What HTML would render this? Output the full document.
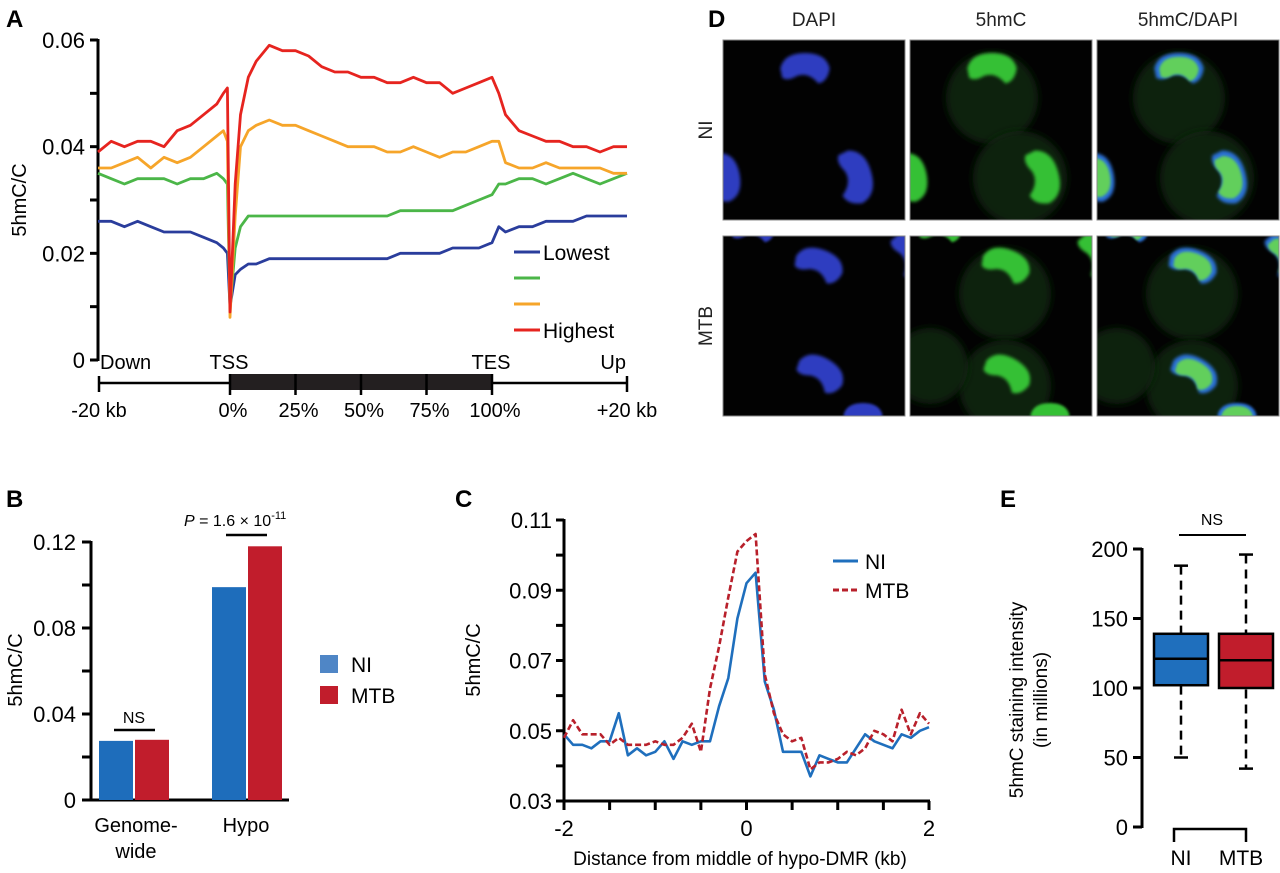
<!DOCTYPE html>
<html><head><meta charset="utf-8"><style>
html,body{margin:0;padding:0;background:#fff;}
svg{display:block;font-family:"Liberation Sans",Arial,sans-serif;}
</style></head><body>
<svg id="fig" width="1280" height="873" viewBox="0 0 1280 873" xmlns="http://www.w3.org/2000/svg">
<defs>
<filter id="blur1" x="-30%" y="-30%" width="160%" height="160%"><feGaussianBlur stdDeviation="1.6"/></filter>
<filter id="blur3" x="-30%" y="-30%" width="160%" height="160%"><feGaussianBlur stdDeviation="4"/></filter>
<clipPath id="cp1"><rect x="0" y="0" width="182" height="180"/></clipPath>
</defs>
<g font-weight="bold" font-size="24" fill="#000">
<text x="6" y="27">A</text>
<text x="6" y="507">B</text>
<text x="455" y="507">C</text>
<text x="708" y="27">D</text>
<text x="1000" y="507">E</text>
</g>
<g id="pA"></g>
<g id="pB"></g>
<g id="pC"></g>
<g id="pD"></g>
<g id="pE"></g>
</svg>
<script>
// ---------- Panel A data ----------
const aX = [-100,-90,-80,-70,-60,-50,-40,-30,-20,-10,-5,-2,0,2,4,7,10,15,20,25,30,35,40,45,50,55,60,65,70,75,80,85,90,95,100,105,110,120,130,140,150,160,170,180,190,200];
const aRed =    [.039,.041,.040,.041,.041,.040,.043,.044,.046,.048,.050,.051,.009,.033,.046,.053,.056,.059,.058,.058,.057,.055,.054,.054,.053,.053,.052,.052,.053,.052,.052,.050,.051,.052,.053,.050,.046,.043,.042,.041,.041,.040,.040,.039,.040,.040];
const aOrange = [.036,.036,.037,.038,.036,.038,.037,.038,.040,.042,.043,.041,.008,.027,.040,.043,.044,.045,.044,.044,.043,.042,.041,.040,.040,.040,.039,.039,.040,.039,.038,.039,.039,.040,.041,.041,.037,.036,.036,.037,.036,.036,.036,.036,.035,.035];
const aGreen =  [.035,.034,.033,.034,.034,.034,.033,.034,.034,.035,.034,.033,.010,.021,.025,.027,.027,.027,.027,.027,.027,.027,.027,.027,.027,.027,.027,.028,.028,.028,.028,.028,.029,.030,.031,.033,.033,.034,.034,.033,.034,.035,.034,.033,.034,.035];
const aBlue =   [.026,.026,.025,.026,.025,.024,.024,.024,.023,.022,.021,.020,.010,.016,.017,.018,.018,.019,.019,.019,.019,.019,.019,.019,.019,.019,.019,.020,.020,.020,.020,.021,.021,.021,.022,.025,.024,.025,.025,.026,.026,.026,.027,.027,.027,.027];
const aYTicks = [0,0.01,0.02,0.03,0.04,0.05,0.06];
const aYLabels = ["0","","0.02","","0.04","","0.06"];
const aPctTicks = [0,25,50,75,100];
const aPctLabels = ["0%","25%","50%","75%","100%"];
// ---------- Panel B data ----------
const bCats = ["Genome-wide","Hypo"];
const bNI = [0.0275, 0.099];
const bMTB = [0.028, 0.118];
const bYTicks = [0,0.02,0.04,0.06,0.08,0.10,0.12];
const bYLabels = ["0","","0.04","","0.08","","0.12"];
// ---------- Panel C data ----------
const cX = [-2.0,-1.9,-1.8,-1.7,-1.6,-1.5,-1.4,-1.3,-1.2,-1.1,-1.0,-0.9,-0.8,-0.7,-0.6,-0.5,-0.4,-0.3,-0.2,-0.1,0,0.1,0.2,0.3,0.4,0.5,0.6,0.7,0.8,0.9,1.0,1.1,1.2,1.3,1.4,1.5,1.6,1.7,1.8,1.9,2.0];
const cNI =  [.049,.046,.046,.045,.047,.047,.055,.043,.045,.043,.044,.047,.042,.047,.046,.047,.047,.057,.065,.082,.092,.095,.064,.056,.044,.044,.044,.037,.043,.042,.041,.041,.045,.049,.047,.046,.045,.049,.048,.050,.051];
const cMTB = [.048,.053,.049,.049,.049,.046,.048,.046,.046,.046,.047,.046,.046,.048,.052,.044,.062,.074,.088,.101,.104,.106,.066,.055,.049,.047,.048,.039,.041,.041,.042,.044,.043,.045,.050,.049,.047,.056,.049,.055,.052];
const cYTicks = [0.03,0.04,0.05,0.06,0.07,0.08,0.09,0.10,0.11];
const cYLabels = ["0.03","","0.05","","0.07","","0.09","","0.11"];
const cXTicks = [-2,-1.5,-1,-0.5,0,0.5,1,1.5,2];
const cXLabels = ["-2","","","","0","","","","2"];
// ---------- Panel E data ----------
const eGroups = ["NI","MTB"];
const eMin = [50, 42];
const eQ1 = [102, 100];
const eMed = [121, 120];
const eQ3 = [139, 139];
const eMax = [188, 196];
const eYTicks = [0,50,100,150,200];

const NS = "http://www.w3.org/2000/svg";
function el(parent, tag, attrs, text){
  const e = document.createElementNS(NS, tag);
  for (const k in attrs) e.setAttribute(k, attrs[k]);
  if (text !== undefined) e.textContent = text;
  parent.appendChild(e);
  return e;
}
function pathFrom(xs, ys, fx, fy){
  return xs.map((x,i)=>(i?'L':'M')+fx(x).toFixed(1)+' '+fy(ys[i]).toFixed(1)).join(' ');
}

// ================= Panel A =================
(function(){
  const g = document.getElementById('pA');
  const ax = x => x<=0 ? 98+(x+100)/100*132 : (x<=100 ? 230+x*2.62 : 492+(x-100)/100*135);
  const ay = v => 360 - v/0.06*320;
  let e = el(g,'line',{x1:98,y1:39,x2:98,y2:361,stroke:'#000','stroke-width':3});
   
  aYTicks.forEach((t,i)=>{
    let tk = el(g,'line',{x1:90,y1:ay(t),x2:98,y2:ay(t),stroke:'#000','stroke-width':3});
     
    if (aYLabels[i]) {
      let tl = el(g,'text',{x:85,y:ay(t)+8,'text-anchor':'end','font-size':22},aYLabels[i]);
       
    }
  });
  e = el(g,'text',{x:0,y:0,transform:'translate(26,200) rotate(-90)','text-anchor':'middle','font-size':20},'5hmC/C');
   
  const series = [[aBlue,'#2a3d9c','line-lowest'],[aGreen,'#4bb648','line-second'],[aOrange,'#f6a52a','line-third'],[aRed,'#e6241f','line-highest']];
  series.forEach(s=>{
    let p = el(g,'path',{d:pathFrom(aX,s[0],ax,ay),fill:'none',stroke:s[1],'stroke-width':2.8,'stroke-linejoin':'round'});
     
  });
  const leg = [['#2a3d9c','Lowest',252],['#4bb648','',278],['#f6a52a','',304],['#e6241f','Highest',330]];
  leg.forEach(l=>{
    let ln = el(g,'line',{x1:514,y1:l[2],x2:540,y2:l[2],stroke:l[0],'stroke-width':3});
     
    if (l[1]) { let t = el(g,'text',{x:543,y:l[2]+8,'font-size':21},l[1]);
        }
  });
  [['Down',100,'start'],['TSS',229,'middle'],['TES',491,'middle'],['Up',626,'end']].forEach(d=>{
    let t = el(g,'text',{x:d[1],y:369,'text-anchor':d[2],'font-size':20},d[0]);
     
  });
  e = el(g,'line',{x1:99,y1:383,x2:627,y2:383,stroke:'#000','stroke-width':2.5});
   
  [99,627].forEach(x=>{ let t=el(g,'line',{x1:x,y1:376,x2:x,y2:392,stroke:'#000','stroke-width':2.5});
      });
  e = el(g,'rect',{x:ax(0),y:374,width:ax(100)-ax(0),height:16,fill:'#231f20'});
   
  aPctTicks.forEach((p,i)=>{
    let t = el(g,'line',{x1:ax(p),y1:374,x2:ax(p),y2:395,stroke:'#000','stroke-width':2.5});
     
    let tl = el(g,'text',{x:ax(p)+3,y:417,'text-anchor':'middle','font-size':20},aPctLabels[i]);
     
  });
  e = el(g,'text',{x:99,y:417,'text-anchor':'middle','font-size':20},'-20 kb');
   
  e = el(g,'text',{x:627,y:417,'text-anchor':'middle','font-size':20},'+20 kb');
   
})();

// ================= Panel B =================
(function(){
  const g = document.getElementById('pB');
  const by = v => 800 - v/0.12*258;
  const groupX = [99, 212];
  const bw = 34;
  let e = el(g,'line',{x1:91,y1:541,x2:91,y2:800,stroke:'#000','stroke-width':3});
   
  e = el(g,'line',{x1:82,y1:800,x2:289,y2:800,stroke:'#000','stroke-width':3});
   
  bYTicks.forEach((t,i)=>{
    let tk = el(g,'line',{x1:82,y1:by(t),x2:91,y2:by(t),stroke:'#000','stroke-width':3});
     
    if (bYLabels[i]) { let tl = el(g,'text',{x:76,y:by(t)+8,'text-anchor':'end','font-size':22},bYLabels[i]);
        }
  });
  e = el(g,'text',{x:0,y:0,transform:'translate(22,670) rotate(-90)','text-anchor':'middle','font-size':20},'5hmC/C');
   
  bCats.forEach((c,i)=>{
    let r1 = el(g,'rect',{x:groupX[i],y:by(bNI[i]),width:bw,height:800-by(bNI[i]),fill:'#1e6dbb'});
     
    let r2 = el(g,'rect',{x:groupX[i]+bw+2,y:by(bMTB[i]),width:bw,height:800-by(bMTB[i]),fill:'#c11d2c'});
     
  });
  e = el(g,'text',{x:136,y:832,'text-anchor':'middle','font-size':20},'Genome-');
   
  e = el(g,'text',{x:136,y:858,'text-anchor':'middle','font-size':20},'wide');
   
  e = el(g,'text',{x:246,y:832,'text-anchor':'middle','font-size':20},'Hypo');
   
  e = el(g,'line',{x1:114,y1:730,x2:155,y2:730,stroke:'#000','stroke-width':2.5});
   
  e = el(g,'text',{x:134,y:723,'text-anchor':'middle','font-size':16},'NS');
   
  e = el(g,'line',{x1:226,y1:535,x2:267,y2:535,stroke:'#000','stroke-width':2.5});
   
  const pt = el(g,'text',{x:184,y:526,'font-size':16});
   
  el(pt,'tspan',{'font-style':'italic'},'P');
  el(pt,'tspan',{},' = 1.6 × 10');
  el(pt,'tspan',{dy:-7,'font-size':11},'-11');
  e = el(g,'rect',{x:320,y:655,width:18,height:18,fill:'#4f86c6'});
   
  e = el(g,'rect',{x:320,y:686,width:18,height:18,fill:'#c11d2c'});
   
  e = el(g,'text',{x:351,y:672,'font-size':21},'NI');
   
  e = el(g,'text',{x:351,y:703,'font-size':21},'MTB');
   
})();

// ================= Panel C =================
(function(){
  const g = document.getElementById('pC');
  const cx = v => 564 + (v+2)/4*365;
  const cy = v => 801 - (v-0.03)/0.08*281;
  let e = el(g,'line',{x1:564,y1:519,x2:564,y2:802,stroke:'#000','stroke-width':3});
   
  e = el(g,'line',{x1:556,y1:801,x2:930,y2:801,stroke:'#000','stroke-width':3});
   
  cYTicks.forEach((t,i)=>{
    let tk = el(g,'line',{x1:556,y1:cy(t),x2:564,y2:cy(t),stroke:'#000','stroke-width':3});
     
    if (cYLabels[i]) { let tl = el(g,'text',{x:552,y:cy(t)+8,'text-anchor':'end','font-size':22},cYLabels[i]);
        }
  });
  cXTicks.forEach((t,i)=>{
    let tk = el(g,'line',{x1:cx(t),y1:801,x2:cx(t),y2:810,stroke:'#000','stroke-width':3});
     
    if (cXLabels[i]) { let tl = el(g,'text',{x:cx(t),y:836,'text-anchor':'middle','font-size':22},cXLabels[i]);
        }
  });
  e = el(g,'text',{x:0,y:0,transform:'translate(480,660) rotate(-90)','text-anchor':'middle','font-size':20},'5hmC/C');
   
  e = el(g,'text',{x:740,y:865,'text-anchor':'middle','font-size':19},'Distance from middle of hypo-DMR (kb)');
   
  let p = el(g,'path',{d:pathFrom(cX,cNI,cx,cy),fill:'none',stroke:'#1f6fbd','stroke-width':2.6,'stroke-linejoin':'round'});
   
  p = el(g,'path',{d:pathFrom(cX,cMTB,cx,cy),fill:'none',stroke:'#b8202b','stroke-width':2.6,'stroke-dasharray':'6,3','stroke-linejoin':'round'});
   
  e = el(g,'line',{x1:833,y1:561,x2:858,y2:561,stroke:'#1f6fbd','stroke-width':3});
   
  e = el(g,'line',{x1:833,y1:590,x2:858,y2:590,stroke:'#b8202b','stroke-width':3,'stroke-dasharray':'6,3'});
   
  e = el(g,'text',{x:865,y:569,'font-size':21},'NI');
   
  e = el(g,'text',{x:865,y:598,'font-size':21},'MTB');
   
})();

// ================= Panel D =================
(function(){
  const g = document.getElementById('pD');
  const colX = [723, 910, 1097];
  const rowY = [40, 236];
  const colNames = ['DAPI','5hmC','5hmC/DAPI'];
  const rowNames = ['NI','MTB'];
  colNames.forEach((c,i)=>{
    let t = el(g,'text',{x:colX[i]+91,y:26,'text-anchor':'middle','font-size':19,fill:'#222'},c);
     
  });
  rowNames.forEach((r,i)=>{
    let t = el(g,'text',{x:0,y:0,transform:'translate(712,'+(rowY[i]+90)+') rotate(-90)','text-anchor':'middle','font-size':19,fill:'#222'},r);
     
  });
  const nuc = [
    [[82,32,0,0.95],[128,138,75,1.05],[-2,138,80,0.95]],
    [[95,32,20,0.95],[96,140,30,0.95],[30,-4,0,0.85],[184,22,60,0.95],[140,182,0,0.75]]
  ];
  const cyto = [[[82,58,46],[110,138,47]],[[95,58,46],[95,150,46],[20,130,38]]];
  const crescent = "M -26 -4 Q -22 -20 0 -20 Q 22 -20 26 -4 Q 24 10 14 12 Q 4 0 -8 4 Q -18 10 -24 6 Z";
  rowY.forEach((ry,ri)=>{
    colX.forEach((cxp,ci)=>{
      const pg = el(g,'g',{transform:'translate('+cxp+','+ry+')'});
       
      const inner = el(pg,'g',{'clip-path':'url(#cp1)'});
      el(inner,'rect',{x:0,y:0,width:182,height:180,fill:'#020202'});
      if (ci>0) cyto[ri].forEach(c=>{ el(inner,'circle',{cx:c[0],cy:c[1],r:c[2],fill:'#0c220c',filter:'url(#blur3)'}); });
      nuc[ri].forEach(n=>{
        const tr = 'translate('+n[0]+','+n[1]+') rotate('+n[2]+') scale('+n[3]+')';
        if (ci===0) el(inner,'path',{d:crescent,transform:tr,fill:'#2e3cc0',filter:'url(#blur1)'});
        else if (ci===1) el(inner,'path',{d:crescent,transform:tr,fill:'#36c036',filter:'url(#blur1)'});
        else { el(inner,'path',{d:crescent,transform:tr,fill:'#2a6fd6',filter:'url(#blur1)'});
               el(inner,'path',{d:crescent,transform:tr+' scale(0.8)',fill:'#62cf5c',filter:'url(#blur1)'}); }
      });
      el(pg,'rect',{x:0,y:0,width:182,height:180,fill:'none',stroke:'#888','stroke-width':1});
    });
  });
})();

// ================= Panel E =================
(function(){
  const g = document.getElementById('pE');
  const ey = v => 827 - v/200*278;
  const gx = [1181, 1246];
  const hw = 27;
  const fills = ['#1f6fbd','#c11d2c'];
  let e = el(g,'line',{x1:1142,y1:548,x2:1142,y2:828,stroke:'#000','stroke-width':3});
   
  eYTicks.forEach(t=>{
    let tk = el(g,'line',{x1:1133,y1:ey(t),x2:1142,y2:ey(t),stroke:'#000','stroke-width':3});
     
    let tl = el(g,'text',{x:1128,y:ey(t)+8,'text-anchor':'end','font-size':22},String(t));
     
  });
  e = el(g,'text',{x:0,y:0,transform:'translate(1023,700) rotate(-90)','text-anchor':'middle','font-size':19},'5hmC staining intensity');
   
  e = el(g,'text',{x:0,y:0,transform:'translate(1047,700) rotate(-90)','text-anchor':'middle','font-size':19},'(in millions)');
   
  eGroups.forEach((grp,i)=>{
    const x = gx[i];
    let w = el(g,'line',{x1:x,y1:ey(eMax[i]),x2:x,y2:ey(eMin[i]),stroke:'#000','stroke-width':2.5,'stroke-dasharray':'9,6'});
     
    [eMax[i],eMin[i]].forEach(v=>{ let c = el(g,'line',{x1:x-7,y1:ey(v),x2:x+7,y2:ey(v),stroke:'#000','stroke-width':2.5});
        });
    let b = el(g,'rect',{x:x-hw,y:ey(eQ3[i]),width:hw*2,height:ey(eQ1[i])-ey(eQ3[i]),fill:fills[i],stroke:'#000','stroke-width':2.5});
     
    let m = el(g,'line',{x1:x-hw,y1:ey(eMed[i]),x2:x+hw,y2:ey(eMed[i]),stroke:'#000','stroke-width':2.5});
     
    let t = el(g,'text',{x:x-(i?5:0),y:865,'text-anchor':'middle','font-size':21},grp);
     
  });
  e = el(g,'path',{d:'M1174 842 V829 H1246 V842',fill:'none',stroke:'#000','stroke-width':2.5});
   
  e = el(g,'line',{x1:1179,y1:535,x2:1246,y2:535,stroke:'#000','stroke-width':2});
   
  e = el(g,'text',{x:1212,y:525,'text-anchor':'middle','font-size':16},'NS');
   
})();
</script>
</body></html>
